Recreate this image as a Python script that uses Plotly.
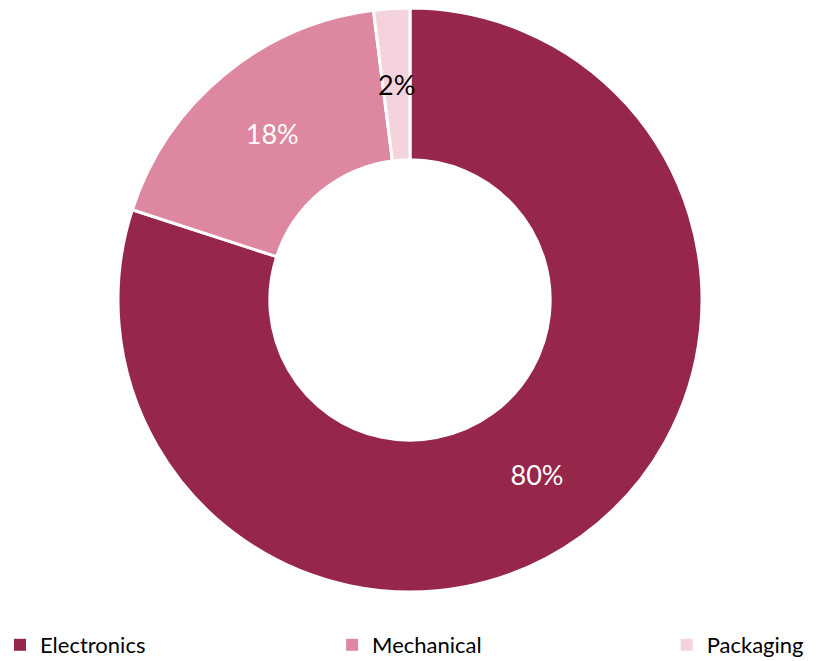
import math
import plotly.graph_objects as go

categories = ["Electronics", "Mechanical", "Packaging"]
values = [80, 18, 2]
colors = ["#96274B", "#DE87A0", "#F5D3DD"]
text_colors = ["white", "white", "black"]

W, H = 820, 661
M = dict(l=0, r=0, t=8, b=69)
HOLE = 0.48
legend_x = [0.0, 0.405, 0.813]
legend_names = ["legend", "legend2", "legend3"]

fig = go.Figure()

# legend-only helper pies (tiny, hidden beneath the main ring)
for cat, col, lg in zip(categories, colors, legend_names):
    fig.add_trace(go.Pie(
        labels=[cat], values=[1],
        marker=dict(colors=[col]),
        domain=dict(x=[0.75, 0.751], y=[0.3, 0.301]),
        textinfo="none", hoverinfo="skip",
        legend=lg, showlegend=True,
    ))

fig.add_trace(go.Pie(
    labels=categories,
    values=values,
    sort=False,
    direction="clockwise",
    rotation=0,
    hole=HOLE,
    marker=dict(colors=colors, line=dict(color="white", width=3)),
    texttemplate=["%{percent:.0%}", "%{percent:.0%}", ""],
    textposition="inside",
    insidetextorientation="horizontal",
    textfont=dict(color=text_colors, size=27, family="Lato"),
    hoverinfo="label+percent",
    showlegend=False,
))

# label for the narrow Packaging slice, placed at its mid-angle / mid-radius
pw = W - M["l"] - M["r"]
ph = H - M["t"] - M["b"]
R = min(pw, ph) / 2
rm = R * (1 + HOLE) / 2
total = sum(values)
cum = sum(values[:2]) + values[2] / 2
theta = 2 * math.pi * cum / total
ax = 0.5 + rm * math.sin(theta) / pw
ay = 0.5 + rm * math.cos(theta) / ph
fig.add_annotation(
    x=ax, y=ay, xref="paper", yref="paper",
    xanchor="center", yanchor="middle",
    text=f"{round(values[2] / total * 100)}%", showarrow=False,
    font=dict(family="Lato", size=27, color="black"),
)

legend_common = dict(
    orientation="h",
    xanchor="left", xref="container",
    y=1 - 645 / H, yanchor="middle", yref="container",
    font=dict(size=22, family="Lato"),
    bgcolor="rgba(0,0,0,0)",
)

fig.update_layout(
    width=W, height=H,
    margin=M,
    paper_bgcolor="white",
    plot_bgcolor="white",
    font=dict(family="Lato", size=20, color="black"),
    legend=dict(x=legend_x[0], **legend_common),
    legend2=dict(x=legend_x[1], **legend_common),
    legend3=dict(x=legend_x[2], **legend_common),
)

fig.write_html(
    "out.html",
    config={"displayModeBar": False},
    post_script="document.body.style.margin='0';",
)
